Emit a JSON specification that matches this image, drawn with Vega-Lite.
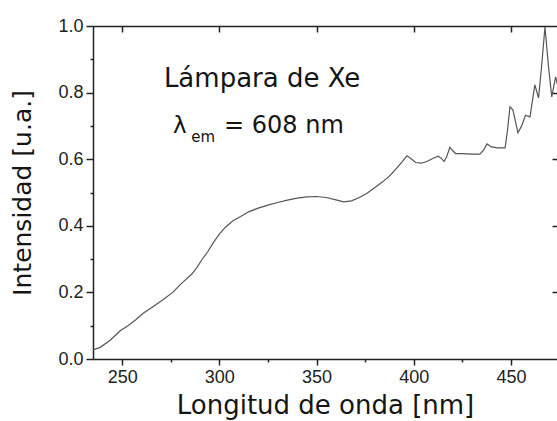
{
  "$schema": "https://vega.github.io/schema/vega-lite/v6.json",
  "width": 464,
  "height": 333,
  "autosize": {"type": "none"},
  "padding": {"left": 93, "top": 26, "right": 0, "bottom": 62},
  "background": "white",
  "config": {
    "view": {"stroke": null},
    "axis": {
      "domainColor": "#222222",
      "tickColor": "#222222",
      "domainWidth": 1.5,
      "tickWidth": 1.5,
      "labelColor": "#222222",
      "titleColor": "#151515",
      "grid": false,
      "labelFont": "Liberation Sans",
      "titleFont": "DejaVu Sans",
      "titleFontWeight": "normal"
    }
  },
  "datasets": {
    "spectrum": [
      {"nm": 235, "i": 0.027}, {"nm": 238.7, "i": 0.035}, {"nm": 244, "i": 0.057}, {"nm": 249, "i": 0.085},
      {"nm": 253, "i": 0.1}, {"nm": 257, "i": 0.118}, {"nm": 261, "i": 0.138}, {"nm": 266, "i": 0.158},
      {"nm": 271, "i": 0.178}, {"nm": 276, "i": 0.2}, {"nm": 280, "i": 0.224}, {"nm": 283, "i": 0.24},
      {"nm": 286, "i": 0.256}, {"nm": 288.6, "i": 0.276}, {"nm": 291, "i": 0.298}, {"nm": 294, "i": 0.322},
      {"nm": 297, "i": 0.35}, {"nm": 300, "i": 0.375}, {"nm": 303, "i": 0.395}, {"nm": 307, "i": 0.415},
      {"nm": 311, "i": 0.428}, {"nm": 315, "i": 0.442}, {"nm": 320, "i": 0.453}, {"nm": 325, "i": 0.462},
      {"nm": 330, "i": 0.47}, {"nm": 335, "i": 0.477}, {"nm": 340, "i": 0.483}, {"nm": 345, "i": 0.487},
      {"nm": 350, "i": 0.488}, {"nm": 355, "i": 0.485}, {"nm": 360, "i": 0.478}, {"nm": 364, "i": 0.472},
      {"nm": 368, "i": 0.475}, {"nm": 372, "i": 0.485}, {"nm": 376, "i": 0.498}, {"nm": 380, "i": 0.515},
      {"nm": 384, "i": 0.532}, {"nm": 388, "i": 0.552}, {"nm": 391, "i": 0.572}, {"nm": 394, "i": 0.592},
      {"nm": 396.5, "i": 0.61}, {"nm": 398.5, "i": 0.602}, {"nm": 401, "i": 0.59}, {"nm": 404, "i": 0.588},
      {"nm": 407, "i": 0.594}, {"nm": 410, "i": 0.603}, {"nm": 412.5, "i": 0.609}, {"nm": 414, "i": 0.604},
      {"nm": 415.6, "i": 0.593}, {"nm": 417, "i": 0.608}, {"nm": 418.6, "i": 0.636}, {"nm": 420, "i": 0.626},
      {"nm": 421.5, "i": 0.617}, {"nm": 425, "i": 0.617}, {"nm": 430, "i": 0.615}, {"nm": 434, "i": 0.615},
      {"nm": 436, "i": 0.628}, {"nm": 437.7, "i": 0.646}, {"nm": 440, "i": 0.637}, {"nm": 443, "i": 0.634},
      {"nm": 447, "i": 0.634}, {"nm": 448.3, "i": 0.69}, {"nm": 449.5, "i": 0.757}, {"nm": 451, "i": 0.748},
      {"nm": 453.6, "i": 0.679}, {"nm": 455.5, "i": 0.7}, {"nm": 457.5, "i": 0.732}, {"nm": 459.8, "i": 0.727},
      {"nm": 462.3, "i": 0.823}, {"nm": 464.2, "i": 0.784}, {"nm": 465.8, "i": 0.88}, {"nm": 467.5, "i": 0.997},
      {"nm": 469.3, "i": 0.88}, {"nm": 471, "i": 0.787}, {"nm": 473, "i": 0.847}, {"nm": 475, "i": 0.8}
    ]
  },
  "layer": [
    {
      "data": {"name": "spectrum"},
      "mark": {"type": "line", "color": "#555555", "strokeWidth": 1.2, "clip": true},
      "encoding": {
        "x": {
          "field": "nm", "type": "quantitative",
          "scale": {"domain": [235, 473.7], "nice": false, "zero": false},
          "axis": {
            "orient": "bottom", "values": [250, 300, 350, 400, 450],
            "tickSize": 6, "labelFontSize": 18, "labelPadding": 3,
            "title": "Longitud de onda [nm]", "titleFontSize": 26, "titlePadding": 6
          }
        },
        "y": {
          "field": "i", "type": "quantitative",
          "scale": {"domain": [0, 1], "nice": false, "zero": false},
          "axis": {
            "orient": "left", "values": [0, 0.2, 0.4, 0.6, 0.8, 1.0], "format": ".1f",
            "tickSize": 7, "labelFontSize": 18, "labelPadding": 3,
            "title": "Intensidad [u.a.]", "titleFontSize": 25, "titlePadding": 22
          }
        }
      }
    },
    {
      "data": {"name": "spectrum"},
      "mark": {"type": "line", "strokeOpacity": 0},
      "encoding": {
        "x": {
          "field": "nm", "type": "quantitative",
          "axis": {"orient": "bottom", "values": [275, 325, 375, 425], "tickSize": 3, "labels": false, "domain": false, "title": null}
        },
        "y": {
          "field": "i", "type": "quantitative",
          "axis": {"orient": "left", "values": [0.1, 0.3, 0.5, 0.7, 0.9], "tickSize": 3, "labels": false, "domain": false, "title": null}
        }
      }
    },
    {
      "data": {"name": "spectrum"},
      "mark": {"type": "line", "strokeOpacity": 0},
      "encoding": {
        "x": {
          "field": "nm", "type": "quantitative",
          "axis": {"orient": "top", "values": [250, 300, 350, 400, 450], "tickSize": -6, "labels": false, "domain": true, "title": null}
        },
        "y": {
          "field": "i", "type": "quantitative",
          "axis": {"orient": "right", "values": [0.2, 0.4, 0.6, 0.8], "tickSize": -5, "labels": false, "domain": false, "title": null}
        }
      }
    },
    {
      "data": {"values": [{"label": "Lámpara de Xe"}]},
      "mark": {"type": "text", "font": "DejaVu Sans", "fontSize": 26, "align": "center", "baseline": "alphabetic", "color": "#151515"},
      "encoding": {
        "x": {"datum": 322, "type": "quantitative", "axis": null},
        "y": {"datum": 0.817, "type": "quantitative", "axis": null},
        "text": {"field": "label"}
      }
    },
    {
      "data": {"values": [{"label": "λ"}]},
      "mark": {"type": "text", "font": "DejaVu Sans", "fontSize": 23, "align": "left", "baseline": "alphabetic", "color": "#151515"},
      "encoding": {
        "x": {"datum": 276.2, "type": "quantitative", "axis": null},
        "y": {"datum": 0.679, "type": "quantitative", "axis": null},
        "text": {"field": "label"}
      }
    },
    {
      "data": {"values": [{"label": "em"}]},
      "mark": {"type": "text", "font": "DejaVu Sans", "fontSize": 15, "align": "left", "baseline": "alphabetic", "color": "#151515"},
      "encoding": {
        "x": {"datum": 285.5, "type": "quantitative", "axis": null},
        "y": {"datum": 0.652, "type": "quantitative", "axis": null},
        "text": {"field": "label"}
      }
    },
    {
      "data": {"values": [{"label": "= 608 nm"}]},
      "mark": {"type": "text", "font": "DejaVu Sans", "fontSize": 24, "align": "left", "baseline": "alphabetic", "color": "#151515"},
      "encoding": {
        "x": {"datum": 302.4, "type": "quantitative", "axis": null},
        "y": {"datum": 0.679, "type": "quantitative", "axis": null},
        "text": {"field": "label"}
      }
    }
  ],
  "resolve": {"axis": {"x": "independent", "y": "independent"}}
}
